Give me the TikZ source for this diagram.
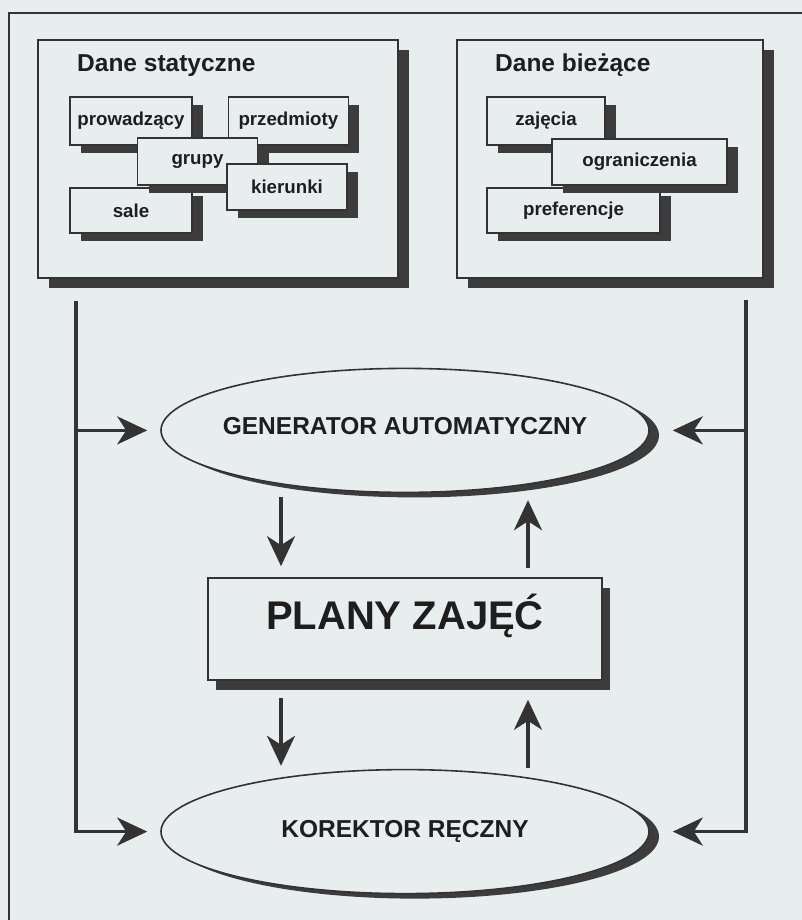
\documentclass[tikz,border=0pt]{standalone}
\usepackage{fontspec}
\setmainfont{Liberation Sans}
\usetikzlibrary{arrows.meta,positioning,shapes.geometric,shadows}
\definecolor{scanbg}{HTML}{E8EDED}
\definecolor{inkgray}{HTML}{333333}
\definecolor{inkblack}{HTML}{1E1E1E}
\definecolor{shadegray}{HTML}{3C3C3C}

\begin{document}
\begin{tikzpicture}[
  x=1pt, y=-1pt,
  pageframe/.style={draw=inkgray,line width=1.4pt},
  panel/.style={draw=inkgray,line width=1.6pt,fill=scanbg,inner sep=0pt,
    drop shadow={shadow xshift=11pt,shadow yshift=-10pt,fill=shadegray,opacity=1}},
  heading/.style={anchor=base west,inner sep=0pt,text=inkblack,
    font=\bfseries\fontsize{24.5}{28}\selectfont},
  item/.style={draw=inkgray,line width=1.4pt,fill=scanbg,inner sep=0pt,
    minimum width=120pt,minimum height=47pt,text=inkblack,
    font=\bfseries\fontsize{18.7}{22}\selectfont,
    drop shadow={shadow xshift=11pt,shadow yshift=-8pt,fill=shadegray,opacity=1}},
  plan/.style={draw=inkgray,line width=1.6pt,fill=scanbg,inner sep=0pt,
    minimum width=394pt,minimum height=102pt,text=inkblack,text depth=34pt,
    font=\bfseries\fontsize{40}{46}\selectfont,
    drop shadow={shadow xshift=8pt,shadow yshift=-10pt,fill=shadegray,opacity=1}},
  oval/.style={ellipse,draw=inkgray,line width=1.6pt,fill=scanbg,
    inner xsep=-60pt,inner ysep=0pt,
    minimum width=488pt,minimum height=124pt,text=inkblack,
    font=\bfseries\fontsize{24.5}{28}\selectfont,
    drop shadow={shadow xshift=10pt,shadow yshift=-5pt,fill=shadegray,opacity=1}},
  link/.style={line width=3.5pt,draw=inkgray},
  arrow/.style={link,-{Stealth[length=30pt,width=28pt,inset=9pt]}}
]
\useasboundingbox[fill=scanbg] (0,0) rectangle (802,920);
\draw[pageframe] (9,925) -- (9,13) -- (806,13);

\node[panel,minimum width=360pt,minimum height=238pt] (stat) at (218,159) {};
\node[heading] (stattitle) at (77,72) {Dane statyczne};
\node[item,minimum width=122pt,minimum height=48pt] (prow) at (131,121) {prowadzący};
\node[item,minimum height=48pt,right=35pt of prow] (przed) {przedmioty};
\node[item,minimum width=122pt,minimum height=45pt] (sale) at (131,210.5) {sale};
\node[item] (grupy) at (197.5,161.5) {grupy};
\node[item,minimum height=46pt] (kier) at (287,187) {kierunki};

\node[panel,minimum width=306pt,minimum height=238pt] (curr) at (610,159) {};
\node[heading] (currtitle) at (495,72) {Dane bieżące};
\node[item,minimum width=118pt,minimum height=48pt] (zaj) at (546,121) {zajęcia};
\node[item,minimum width=173pt,minimum height=45pt] (pref) at (573.5,210.5) {preferencje};
\node[item,minimum width=175pt,minimum height=46pt] (ogr) at (639.5,162) {ograniczenia};

\node[plan] (plany) at (405,629) {PLANY ZAJĘĆ};
\node[oval,text depth=8pt,above=84pt of plany] (gen) {GENERATOR AUTOMATYCZNY};
\node[oval,below=88pt of plany] (kor) {KOREKTOR RĘCZNY};

\coordinate (lfork) at ([xshift=39pt,yshift=-22pt]stat.south west);
\coordinate (rfork) at ([xshift=-18pt,yshift=-21pt]curr.south east);

\draw[arrow] (lfork) |- ([xshift=-13pt]kor.west);
\draw[arrow] (lfork |- gen.west) -- ([xshift=-13pt]gen.west);
\draw[arrow] (rfork) |- ([xshift=23pt]kor.east);
\draw[arrow] (rfork |- gen.east) -- ([xshift=23pt]gen.east);
\draw[arrow] ([xshift=-124pt,yshift=-4pt]gen.south) -- ([xshift=-124pt,yshift=11pt]plany.north);
\draw[arrow] ([xshift=123pt,yshift=9pt]plany.north) -- ([xshift=123pt,yshift=-7pt]gen.south);
\draw[arrow] ([xshift=-124pt,yshift=-17pt]plany.south) -- ([xshift=-124pt,yshift=3pt]kor.north);
\draw[arrow] ([xshift=123pt,yshift=1pt]kor.north) -- ([xshift=123pt,yshift=-19pt]plany.south);
\end{tikzpicture}
\end{document}
